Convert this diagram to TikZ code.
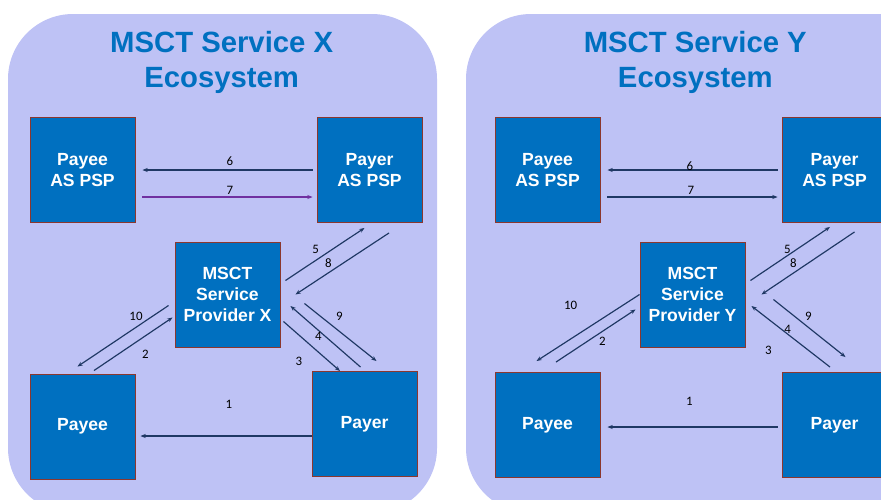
\documentclass[tikz,border=0pt]{standalone}
\usepackage{fontspec}
\setmainfont{Liberation Sans}
\newfontfamily\numfont{Carlito}
\usetikzlibrary{arrows.meta,calc}
\definecolor{panelfill}{RGB}{190,194,245}
\definecolor{boxblue}{RGB}{0,112,192}
\definecolor{boxedge}{RGB}{140,55,45}
\definecolor{arrowblue}{RGB}{31,56,100}
\definecolor{arrowpurple}{RGB}{112,48,160}
\begin{document}
\begin{tikzpicture}[x=0.03cm, y=-0.03cm,
    box/.style={draw=boxedge, line width=0.8pt, fill=boxblue, text=white,
        minimum width=3.15cm, minimum height=3.15cm, align=center,
        font=\bfseries\fontsize{15}{18}\selectfont},
    title/.style={text=boxblue, align=center, inner sep=0pt, anchor=north,
        font=\bfseries\fontsize{25}{30}\selectfont},
    num/.style={inner sep=0pt, font=\numfont\fontsize{11}{12}\selectfont},
    flow/.style={draw=arrowblue, line width=1pt, -{Stealth[length=4.5pt,width=3.5pt]}}]
            \useasboundingbox (0,0) rectangle (881,499);
            \clip (0,0) rectangle (881,499);

            % the two ecosystems
            \fill[panelfill, rounded corners=1.95cm] (8,14) rectangle (437,513);
            \fill[panelfill, rounded corners=1.95cm] (466,14) rectangle (945,513);

            \node[title] (xtitle) at (221.7,31) {MSCT Service X\\Ecosystem};
            \node[title] (ytitle) at (695.3,31) {MSCT Service Y\\Ecosystem};

            % service X
            \node[box] (xpayeepsp) at (82.5,170) {Payee\\AS PSP};
            \node[box] (xpayerpsp) at (369.5,170) {Payer\\AS PSP};
            \node[box] (xprov) at (227.5,294.5) {MSCT\\Service\\Provider X};
            \node[box] (xpayee) at (82.5,426.5) {Payee};
            \node[box] (xpayer) at (364.5,424) {Payer};

            % service Y
            \node[box] (ypayeepsp) at (547.5,170) {Payee\\AS PSP};
            \node[box] (ypayerpsp) at (834.5,170) {Payer\\AS PSP};
            \node[box] (yprov) at (692.5,294.5) {MSCT\\Service\\Provider Y};
            \node[box] (ypayee) at (547.5,425) {Payee};
            \node[box] (ypayer) at (834.5,425) {Payer};

            \draw[flow] ($(xpayer.west)+(0,12)$) -- ($(xpayee.east)+(5,9.5)$);
            \draw[flow] ($(xpayee.north)+(11.5,-3)$) -- ($(xprov.west)+(-2,23)$);
            \draw[flow] ($(xprov.east)+(3,27)$) -- ($(xpayer.north)+(-24.5,0)$);
            \draw[flow] ($(xpayer.north)+(-4,-4)$) -- ($(xprov.east)+(10,11.5)$);
            \draw[flow] ($(xprov.east)+(5,-14)$) -- ($(xpayerpsp.south)+(-5,5)$);
            \draw[flow] ($(xpayerpsp.west)+(-4,0)$) -- ($(xpayeepsp.east)+(7,0)$);
            \draw[flow, draw=arrowpurple] ($(xpayeepsp.east)+(7,27)$) -- ($(xpayerpsp.west)+(-4,27)$);
            \draw[flow] ($(xpayerpsp.south)+(19.5,10)$) -- ($(xprov.east)+(15,0)$);
            \draw[flow] ($(xprov.east)+(24,9)$) -- ($(xpayer.north)+(12,-10)$);
            \draw[flow] ($(xprov.west)+(-6,11)$) -- ($(xpayee.north)+(-5,-7)$);

            \draw[flow] ($(ypayer.west)+(-4,2)$) -- ($(ypayee.east)+(7,2)$);
            \draw[flow] ($(ypayee.north)+(8.5,-10)$) -- ($(yprov.west)+(-4,15)$);
            \draw[flow] ($(ypayer.north)+(-4.5,-5)$) -- ($(yprov.east)+(6,11.5)$);
            \draw[flow] ($(yprov.east)+(5,-14)$) -- ($(ypayerpsp.south)+(-4.5,4)$);
            \draw[flow] ($(ypayerpsp.west)+(-4,0)$) -- ($(ypayeepsp.east)+(7,0)$);
            \draw[flow] ($(ypayeepsp.east)+(7,27)$) -- ($(ypayerpsp.west)+(-4,27)$);
            \draw[flow] ($(ypayerpsp.south)+(20,9)$) -- ($(yprov.east)+(16,0)$);
            \draw[flow] ($(yprov.east)+(28,5)$) -- ($(ypayer.north)+(11,-15)$);
            \draw[flow] (yprov.west) -- ($(ypayee.north)+(-11,-11)$);

            % step numbers
            \node[num] (x1) at (229,404) {1};
            \node[num] (x2) at (145.3,354) {2};
            \node[num] (x3) at (299,361.3) {3};
            \node[num] (x4) at (318.3,336) {4};
            \node[num] (x5) at (315.7,249.3) {5};
            \node[num] (x6) at (230,161) {6};
            \node[num] (x7) at (230,190) {7};
            \node[num] (x8) at (328.3,263.3) {8};
            \node[num] (x9) at (339.3,316.7) {9};
            \node[num] (x10) at (136,316.7) {10};

            \node[num] (y1) at (689.3,401) {1};
            \node[num] (y2) at (602.3,341.7) {2};
            \node[num] (y3) at (768.3,350.7) {3};
            \node[num] (y4) at (787.7,329) {4};
            \node[num] (y5) at (787.3,249.3) {5};
            \node[num] (y6) at (690,165.7) {6};
            \node[num] (y7) at (691,190) {7};
            \node[num] (y8) at (793.3,263.3) {8};
            \node[num] (y9) at (808.3,316.7) {9};
            \node[num] (y10) at (570.7,305) {10};
        \end{tikzpicture}
\end{document}
